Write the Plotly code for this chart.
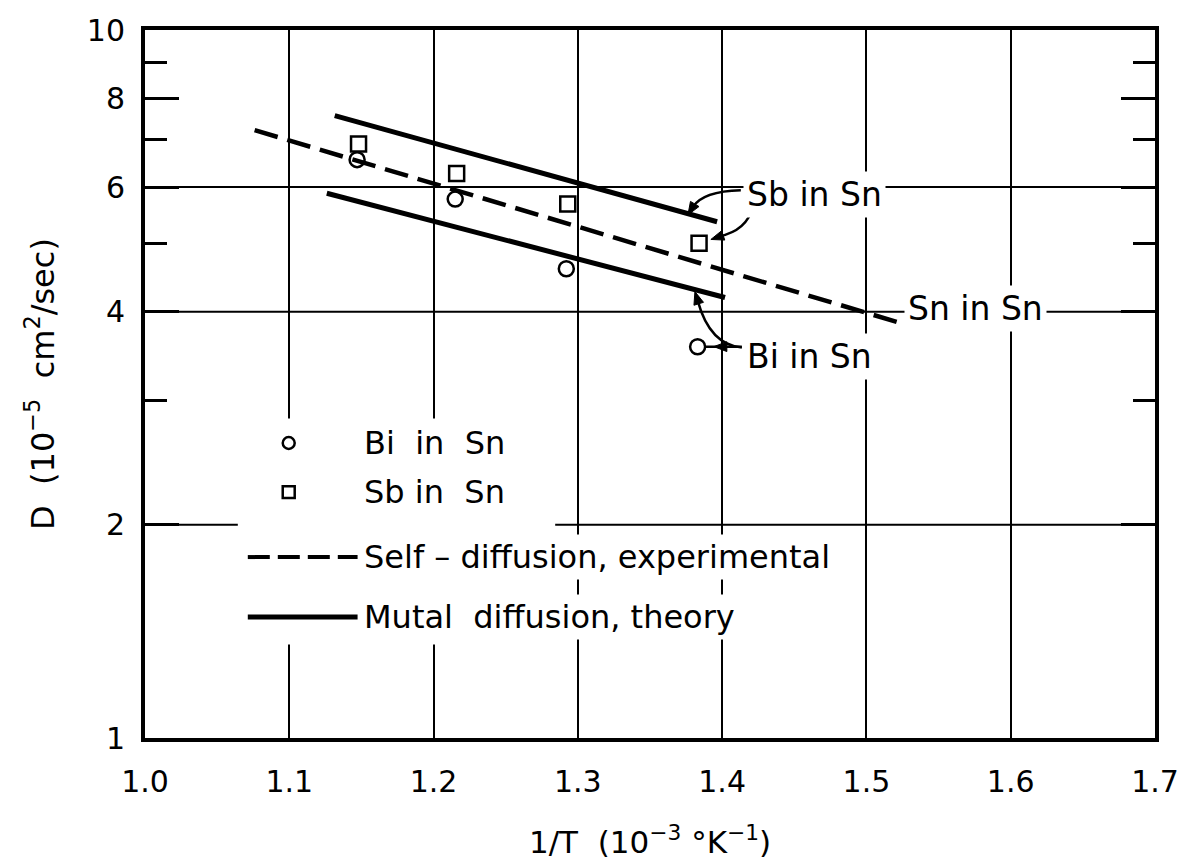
import math
import plotly.graph_objects as go

# Measured diffusion coefficients: 1/T in 1e-3 K^-1, D in 1e-5 cm^2/sec
bi_inv_t = [1.147, 1.215, 1.292, 1.383]
bi_d = [6.56, 5.77, 4.60, 3.57]
sb_inv_t = [1.148, 1.216, 1.293, 1.384]
sb_d = [6.90, 6.27, 5.68, 5.00]

# Self-diffusion of Sn (experimental fit)
sn_self_inv_t = [1.076, 1.521]
sn_self_d = [7.22, 3.87]

# Mutual diffusion (theory)
sb_theory_inv_t = [1.1315, 1.3965]
sb_theory_d = [7.57, 5.36]
bi_theory_inv_t = [1.126, 1.402]
bi_theory_d = [5.88, 4.19]

# Axis ticks
x_ticks = [1.0, 1.1, 1.2, 1.3, 1.4, 1.5, 1.6, 1.7]
x_ticktext = ["1.0", "1.1", "1.2", "1.3", "1.4", "1.5", "1.6", "1.7"]
y_ticks = [1, 2, 4, 6, 8, 10]
y_ticktext = ["1", "2", "4", "6", "8", "10"]
y_minor_ticks = [3, 5, 7, 9]
y_grid = [2, 4, 6]

# Figure / plot-area geometry in pixels
W, H = 1191, 867
ML, MR, MT, MB = 145, 34, 20, 127
PW = W - ML - MR
PH = H - MT - MB

FONT = "DejaVu Sans"
INK = "black"


def pp(px, py):
    """Pixel position (from top-left of the page) -> paper coordinates."""
    return (px - ML) / PW, (MT + PH - py) / PH


fig = go.Figure()

fig.add_trace(go.Scatter(
    x=sn_self_inv_t, y=sn_self_d, mode="lines",
    line=dict(color=INK, width=4.5, dash="24px,10px"), showlegend=False))
fig.add_trace(go.Scatter(
    x=sb_theory_inv_t, y=sb_theory_d, mode="lines",
    line=dict(color=INK, width=5), showlegend=False))
fig.add_trace(go.Scatter(
    x=bi_theory_inv_t, y=bi_theory_d, mode="lines",
    line=dict(color=INK, width=5), showlegend=False))
fig.add_trace(go.Scatter(
    x=bi_inv_t, y=bi_d, mode="markers",
    marker=dict(symbol="circle-open", size=15, color=INK, line=dict(width=2.5)),
    showlegend=False))
fig.add_trace(go.Scatter(
    x=sb_inv_t, y=sb_d, mode="markers",
    marker=dict(symbol="square-open", size=15, color=INK, line=dict(width=2.5)),
    showlegend=False))

shapes = []
# horizontal grid lines
for v in y_grid:
    shapes.append(dict(type="line", xref="paper", x0=0, x1=1, yref="y", y0=v, y1=v,
                       line=dict(color=INK, width=2), layer="below"))

# white block behind the key
kx0, ky0 = pp(238, 645)
kx1, ky1 = pp(556, 415)
shapes.append(dict(type="rect", xref="paper", yref="paper", x0=kx0, x1=kx1, y0=ky0, y1=ky1,
                   fillcolor="white", line=dict(width=0), layer="above"))

# key symbols
r = 6
cx, cy = pp(289, 440)
shapes.append(dict(type="circle", xref="paper", yref="paper",
                   x0=cx - r / PW, x1=cx + r / PW, y0=cy - r / PH, y1=cy + r / PH,
                   line=dict(color=INK, width=2.5), layer="above"))
sx, sy = pp(289, 490)
shapes.append(dict(type="rect", xref="paper", yref="paper",
                   x0=sx - r / PW, x1=sx + r / PW, y0=sy - r / PH, y1=sy + r / PH,
                   line=dict(color=INK, width=2.5), layer="above"))
lx0, ly = pp(248, 556)
lx1, _ = pp(358, 556)
shapes.append(dict(type="line", xref="paper", yref="paper", x0=lx0, x1=lx1, y0=ly, y1=ly,
                   line=dict(color=INK, width=4, dash="22px,8px"), layer="above"))
lx0, ly = pp(248, 617)
lx1, _ = pp(358, 617)
shapes.append(dict(type="line", xref="paper", yref="paper", x0=lx0, x1=lx1, y0=ly, y1=ly,
                   line=dict(color=INK, width=5), layer="above"))


def curve(p0, c, p1):
    a, b, d = pp(*p0), pp(*c), pp(*p1)
    return dict(type="path", xref="paper", yref="paper",
                path=f"M {a[0]},{a[1]} Q {b[0]},{b[1]} {d[0]},{d[1]}",
                line=dict(color=INK, width=2.5), layer="above")


def arrowhead(tip, frm, length=13, half=5):
    """Filled triangular head at `tip`, pointing away from `frm` (pixels)."""
    dx, dy = tip[0] - frm[0], tip[1] - frm[1]
    n = math.hypot(dx, dy)
    ux, uy = dx / n, dy / n
    bx, by = tip[0] - ux * length, tip[1] - uy * length
    p1 = pp(bx - uy * half, by + ux * half)
    p2 = pp(bx + uy * half, by - ux * half)
    t = pp(*tip)
    return dict(type="path", xref="paper", yref="paper",
                path=f"M {t[0]},{t[1]} L {p1[0]},{p1[1]} L {p2[0]},{p2[1]} Z",
                fillcolor=INK, line=dict(color=INK, width=1), layer="above")


# leader curves from the labels, each ending in an arrowhead
shapes.append(curve((742, 183), (704, 184), (694, 200)))
shapes.append(arrowhead((689, 208), (697, 195)))
shapes.append(curve((754, 200), (748, 224), (720, 230)))
shapes.append(arrowhead((712, 233), (724, 229)))
shapes.append(curve((743, 343), (711, 340), (699, 296)))
shapes.append(arrowhead((696, 286), (700, 299)))
shapes.append(curve((743, 342), (725, 342), (707, 342)))
shapes.append(arrowhead((715, 342), (730, 342)))

annotations = []


def label(text, px, py, size=33):
    x, y = pp(px, py)
    annotations.append(dict(xref="paper", yref="paper", x=x, y=y, text=text,
                            showarrow=False, xanchor="left", yanchor="middle",
                            font=dict(family=FONT, size=size, color=INK),
                            bgcolor="white", borderpad=3))


label("Sb in Sn", 744, 187)
label("Sn in Sn", 906, 303)
label("Bi in Sn", 744, 352)

# key texts
label("Bi  in  Sn", 360, 440, size=32)
label("Sb in  Sn", 360, 490, size=32)
label("Self – diffusion, experimental", 360, 556, size=32)
label("Mutal  diffusion, theory", 360, 617, size=32)

fig.update_layout(
    width=W, height=H,
    margin=dict(l=ML, r=MR, t=MT, b=MB, pad=0),
    paper_bgcolor="white", plot_bgcolor="white",
    font=dict(family=FONT, size=30, color=INK),
    showlegend=False,
    shapes=shapes,
    annotations=annotations,
    xaxis=dict(
        range=[1.0, 1.7], tickmode="array", tickvals=x_ticks, ticktext=x_ticktext,
        showgrid=True, gridcolor=INK, gridwidth=2, zeroline=False,
        showline=True, linecolor=INK, linewidth=4, mirror=True,
        ticks="", ticklabelstandoff=14,
        tickfont=dict(family=FONT, size=30, color=INK),
        title=dict(text="1/T  (10<sup>−3</sup> °K<sup>−1</sup>)",
                   font=dict(family=FONT, size=31, color=INK), standoff=34),
    ),
    yaxis=dict(
        type="log", range=[0, 1], tickmode="array", tickvals=y_ticks, ticktext=y_ticktext,
        showgrid=False, zeroline=False,
        showline=True, linecolor=INK, linewidth=4, mirror="ticks",
        ticks="inside", ticklen=34, tickwidth=2.5, tickcolor=INK,
        ticklabelstandoff=10,
        tickfont=dict(family=FONT, size=30, color=INK),
        minor=dict(tickmode="array", tickvals=y_minor_ticks, ticks="inside",
                   ticklen=22, tickwidth=2.5, tickcolor=INK, showgrid=False),
        title=dict(text="D  (10<sup>−5</sup>  cm<sup>2</sup>/sec)",
                   font=dict(family=FONT, size=32, color=INK), standoff=24),
    ),
)

fig.write_html("out.html")
